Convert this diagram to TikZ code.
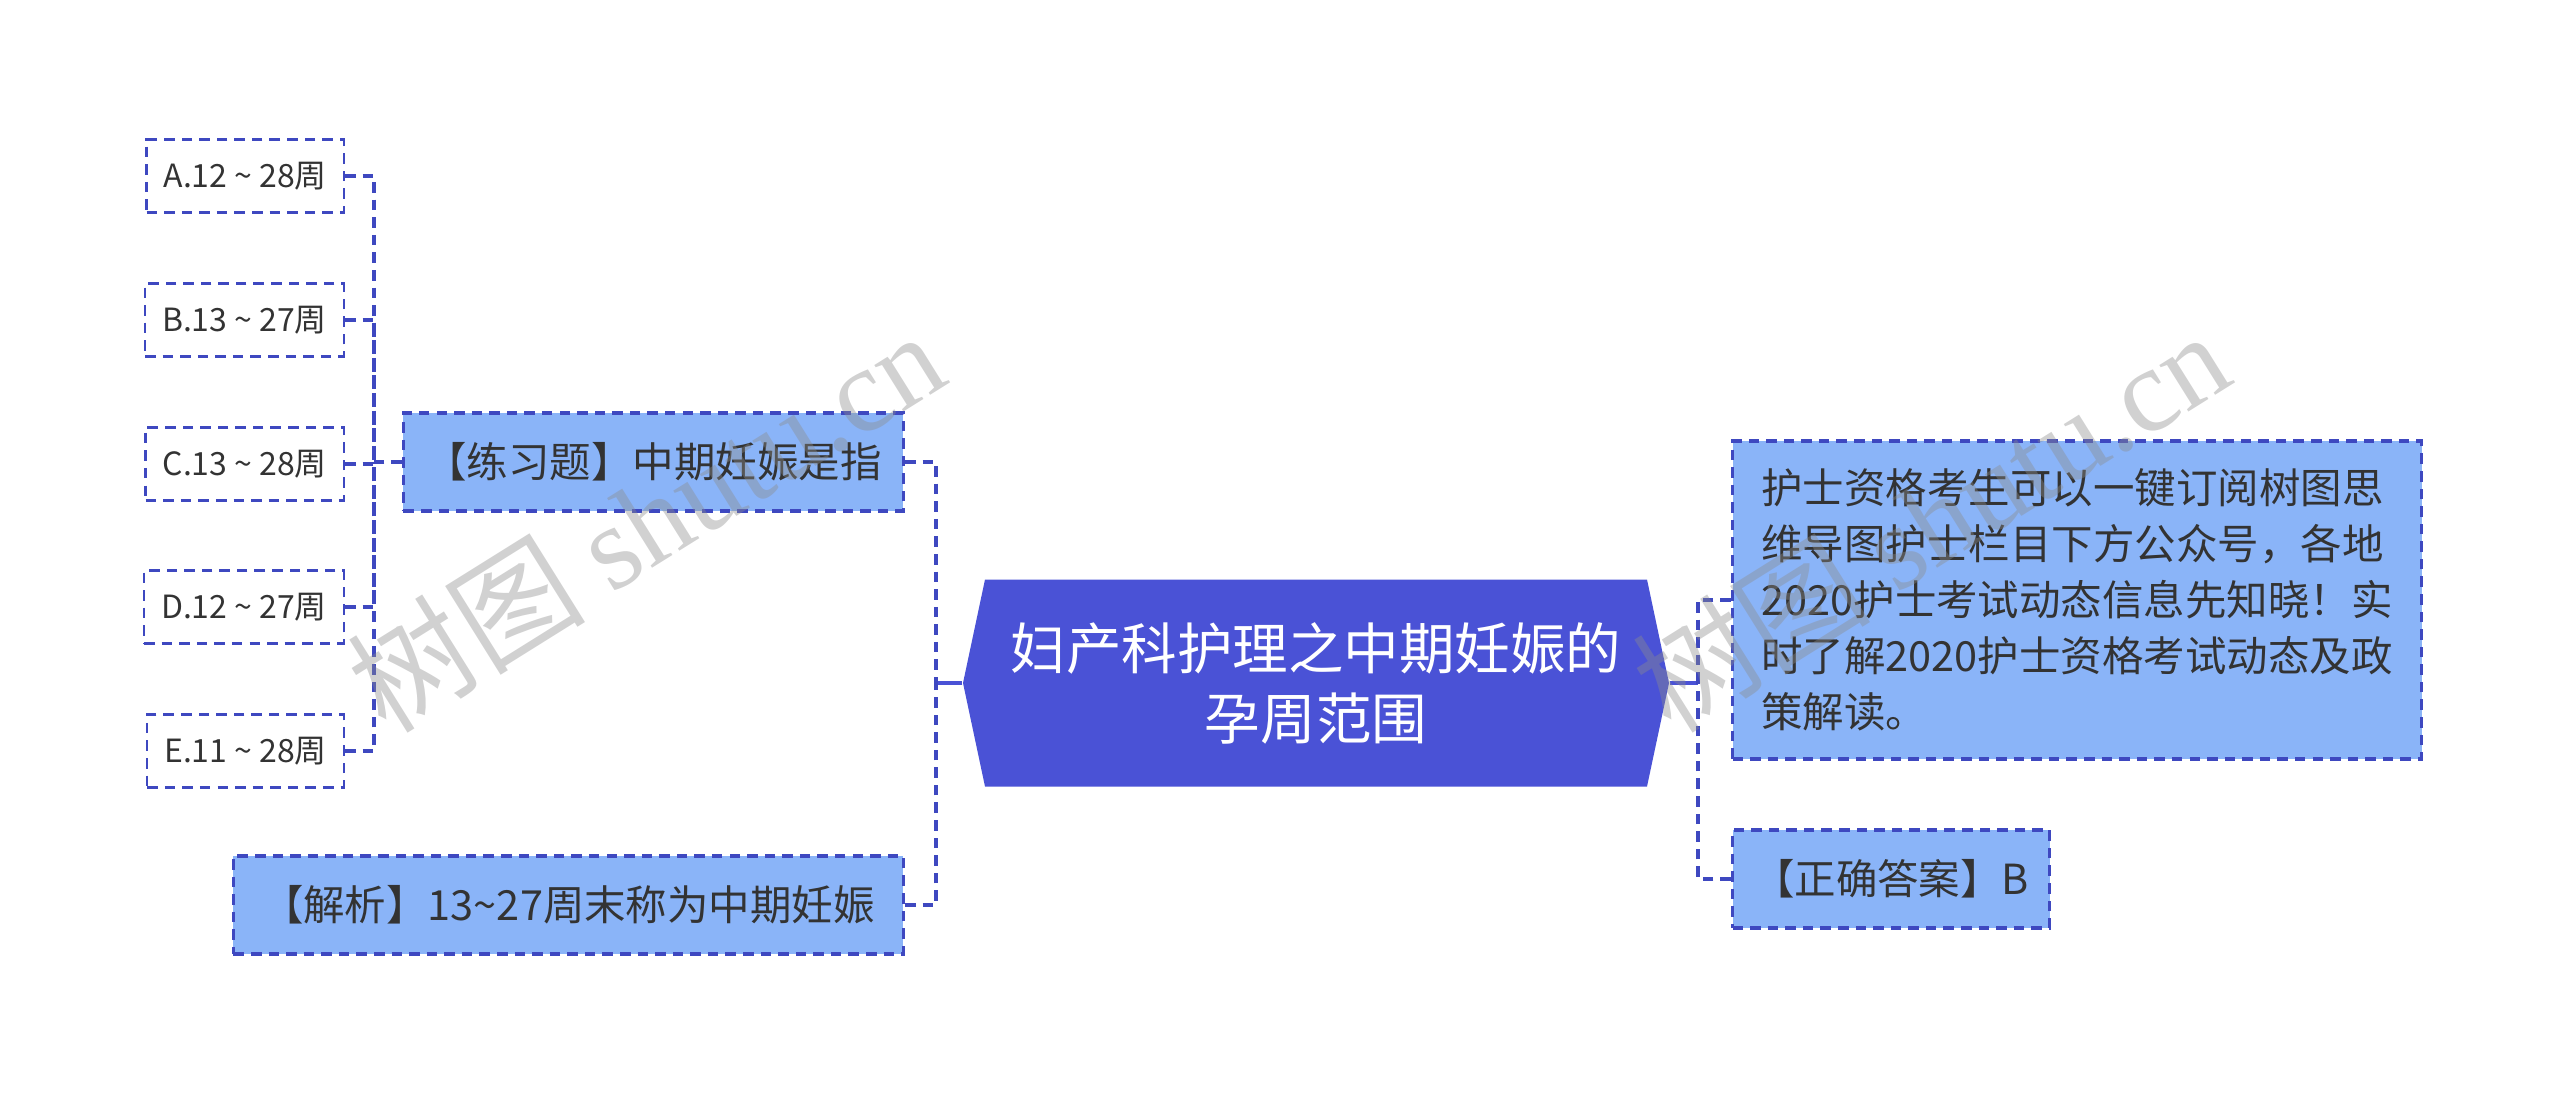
\documentclass[tikz,border=0pt]{standalone}
\usepackage{fontspec}
\setmainfont{Noto Sans CJK SC}
\newfontfamily\wmserif{Liberation Serif}
\usetikzlibrary{shapes.symbols}
\definecolor{rootblue}{RGB}{74,82,214}
\definecolor{leafblue}{RGB}{138,180,248}
\definecolor{edgeblue}{RGB}{62,72,192}
\definecolor{inkgray}{RGB}{51,51,51}
\newcommand{\wv}{\hspace{0.22em}\textasciitilde\hspace{0.22em}}

\begin{document}
\begin{tikzpicture}[x=1cm,y=-1cm,
  rootnode/.style={signal, signal to=west and east, signal pointer angle=156,
    fill=rootblue, text=white, minimum width=7.06cm, minimum height=2.07cm,
    align=center, font=\fontsize{15.8}{19.9}\selectfont},
  leaf/.style={draw=edgeblue, fill=leafblue, text=inkgray, line width=0.9pt,
    dash pattern=on 3pt off 2pt, minimum height=0.98cm,
    font=\fontsize{11.8}{15.9}\selectfont},
  pick/.style={draw=edgeblue, fill=white, text=inkgray, line width=0.7pt,
    dash pattern=on 3pt off 2pt, minimum height=0.73cm, inner xsep=0.17cm,
    font=\fontsize{9.1}{11}\selectfont},
  link/.style={draw=edgeblue, line width=0.9pt, dash pattern=on 3pt off 2pt},
  stem/.style={draw=rootblue, line width=1.2pt},
  wmark/.style={text=black!45, text opacity=0.4, rotate=32,
    font=\fontsize{34}{36}\selectfont}]
\useasboundingbox (0,0) rectangle (25.6,10.93);

% centre
\node[rootnode] (root) at (13.16,6.83) {妇产科护理之中期妊娠的\\孕周范围};

% left side
\node[leaf, anchor=east, minimum width=5.0cm] (quiz) at (9.05,4.62) {【练习题】中期妊娠是指};
\node[leaf, anchor=east, minimum width=6.7cm] (note) at (9.05,9.05) {【解析】13\textasciitilde27周末称为中期妊娠};
\foreach \nm/\yy/\txt in {optA/1.76/A.12\wv28周, optB/3.20/B.13\wv27周,
  optC/4.64/C.13\wv28周, optD/6.07/D.12\wv27周, optE/7.51/E.11\wv28周}
  \node[pick, anchor=east] (\nm) at (3.45,\yy) {\txt};

% right side
\node[leaf, anchor=west, minimum width=6.89cm, minimum height=3.18cm, align=left,
  inner xsep=0.23cm] (info) at (17.31,6.00)
  {护士资格考生可以一键订阅树图思\\维导图护士栏目下方公众号，各地\\2020护士考试动态信息先知晓！实\\时了解2020护士资格考试动态及政\\策解读。};
\node[leaf, anchor=west, minimum width=3.17cm] (answer) at (17.31,8.79) {【正确答案】B};

% connectors
\coordinate (lhub) at (9.36,6.83);
\coordinate (rhub) at (16.98,6.83);
\coordinate (ohub) at (3.74,4.62);
\draw[stem] (root.west) -- (lhub);
\draw[stem] (root.east) -- (rhub);
\draw[link] (quiz.east) -| (lhub);
\draw[link] (note.east) -| (lhub);
\draw[link] (info.west) -| (rhub);
\draw[link] (answer.west) -| (rhub);
\draw[link] (quiz.west) -- (ohub);
\foreach \nm in {optA,optB,optC,optD,optE}
  \draw[link] (\nm.east) -| (ohub);

% watermarks
\node[wmark] (wm1) at (6.45,5.20) {树图 {\wmserif shutu.cn}};
\node[wmark] (wm2) at (19.30,5.20) {树图 {\wmserif shutu.cn}};
\end{tikzpicture}
\end{document}
